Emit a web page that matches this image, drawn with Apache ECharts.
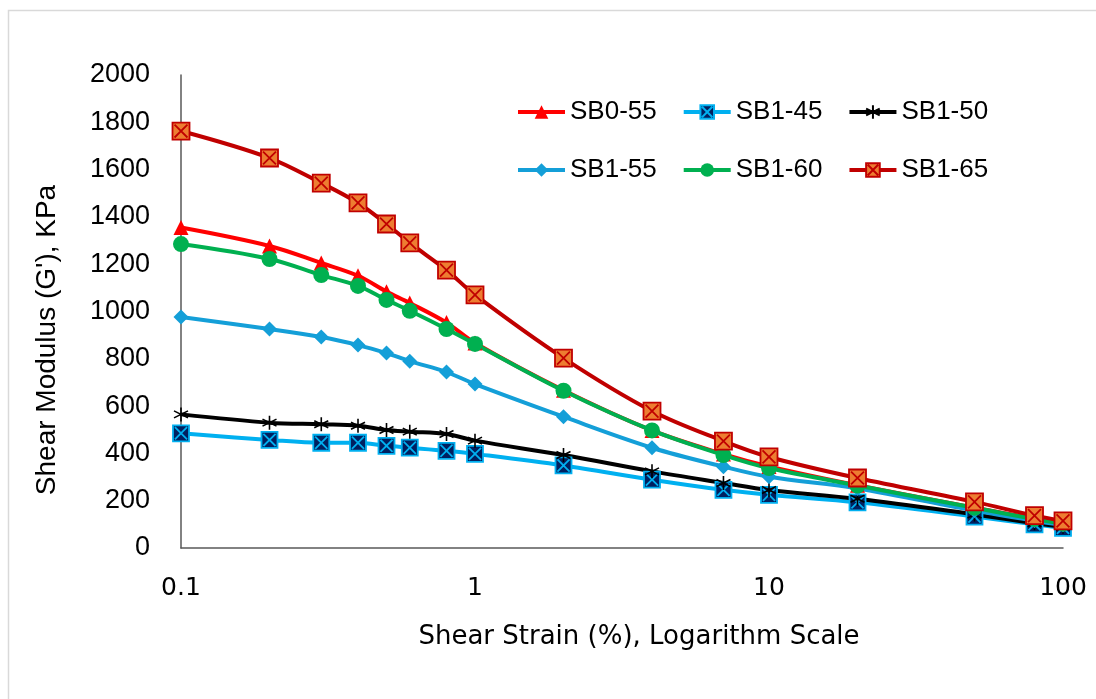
<!DOCTYPE html>
<html>
<head>
<meta charset="utf-8">
<script src="https://cdn.jsdelivr.net/npm/echarts@6/dist/echarts.min.js"></script>
<style>
html,body{margin:0;padding:0;background:#fff;}
#chart{width:1096px;height:699px;}
</style>
</head>
<body>
<div id="chart"></div>
<script>
const strain = [0.1,0.2,0.3,0.4,0.5,0.6,0.8,1,2,4,7,10,20,50,80,100];
const SB0_55 = [1355,1277,1205,1151,1084,1036,953,867,667,497,397,345,265,170,125,100];
const SB1_45 = [485,457,445,445,432,424,411,398,349,289,246,225,193,133,100,85];
const SB1_50 = [565,530,523,517,499,492,482,454,393,324,275,245,208,142,105,90];
const SB1_55 = [977,926,892,858,824,790,744,693,555,424,344,301,252,158,115,97];
const SB1_60 = [1285,1222,1154,1108,1049,1003,926,863,665,497,393,338,264,170,123,103];
const SB1_65 = [1763,1649,1543,1459,1370,1290,1175,1070,803,579,452,385,296,195,137,115];
const yTicks = {min:0, max:2000, step:200};
const xTickLabels = {0.1:'0.1', 1:'1', 10:'10', 100:'100'};

const pair = arr => arr.map((v,i)=>[strain[i], v]);
const sqX = 'path://M0,0L10,0L10,10L0,10Z M1.2,1.2L8.8,8.8 M8.8,1.2L1.2,8.8';
const star = 'path://M5,0L5,10 M0.7,2.5L9.3,7.5 M9.3,2.5L0.7,7.5';

function mk(name, data, lineColor, symbol, size, fill, border, bw){
  return {
    name, type:'line', data: pair(data), smooth:0.35,
    symbol, symbolSize:size,
    lineStyle:{color:lineColor, width:4},
    itemStyle:{color:fill, borderColor:border, borderWidth:bw},
    emphasis:{disabled:true}
  };
}

const legendText = {fontFamily:'Liberation Sans', fontSize:26, color:'#000'};
const legendBase = {left:516, padding:0, itemGap:25, itemWidth:47, itemHeight:17, textStyle:legendText, lineStyle:{width:4}};
const chart = echarts.init(document.getElementById('chart'));
chart.setOption({
  animation:false,
  grid:{left:181, right:33, top:75, bottom:151, containLabel:false},
  graphic:[
    {type:'rect', shape:{x:8.5,y:10.5,width:1200,height:800}, style:{fill:'none', stroke:'#d9d9d9', lineWidth:1.5}, silent:true},
    {type:'text', x:639, y:637, style:{text:'Shear Strain (%), Logarithm Scale', font:'26px "DejaVu Sans"', fill:'#000', align:'center', verticalAlign:'middle'}},
    {type:'text', x:47, y:340, rotation:Math.PI/2, style:{text:"Shear Modulus (G'), KPa", font:'28px "Liberation Sans"', fill:'#000', align:'center', verticalAlign:'middle'}}
  ],
  legend:[
    Object.assign({data:['SB0-55','SB1-45','SB1-50'], top:99}, legendBase),
    Object.assign({data:['SB1-55','SB1-60','SB1-65'], top:157}, legendBase)
  ],
  xAxis:{
    type:'log', logBase:10, min:0.1, max:100,
    axisLine:{show:true, onZero:false, lineStyle:{color:'#595959', width:1.5}},
    axisTick:{show:false}, splitLine:{show:false}, minorTick:{show:false},
    axisLabel:{margin:28, fontFamily:'DejaVu Sans', fontSize:25, color:'#000',
      formatter: v => { const k = Object.keys(xTickLabels).find(t => Math.abs(t - v) < 1e-9 * Math.max(1,v)); return k !== undefined ? xTickLabels[k] : ''; }}
  },
  yAxis:{
    type:'value', min:yTicks.min, max:yTicks.max, interval:yTicks.step,
    axisLine:{show:true, lineStyle:{color:'#595959', width:1.5}},
    axisTick:{show:false}, splitLine:{show:false},
    axisLabel:{margin:31, fontFamily:'Liberation Sans', fontSize:27, color:'#000', formatter: v => String(v)}
  },
  series:[
    mk('SB0-55', SB0_55, '#FF0000', 'triangle', 15, '#FF0000', '#FF0000', 0),
    mk('SB1-45', SB1_45, '#00B0F0', sqX, 16, '#002060', '#00B0F0', 1.8),
    mk('SB1-50', SB1_50, '#000000', star, 14, '#000000', '#000000', 1.6),
    mk('SB1-55', SB1_55, '#149FD8', 'diamond', 15, '#149FD8', '#149FD8', 0),
    mk('SB1-60', SB1_60, '#00B050', 'circle', 16, '#00B050', '#00B050', 0),
    mk('SB1-65', SB1_65, '#C00000', sqX, 17, '#ED7D31', '#C00000', 1.8)
  ]
});
</script>
</body>
</html>
